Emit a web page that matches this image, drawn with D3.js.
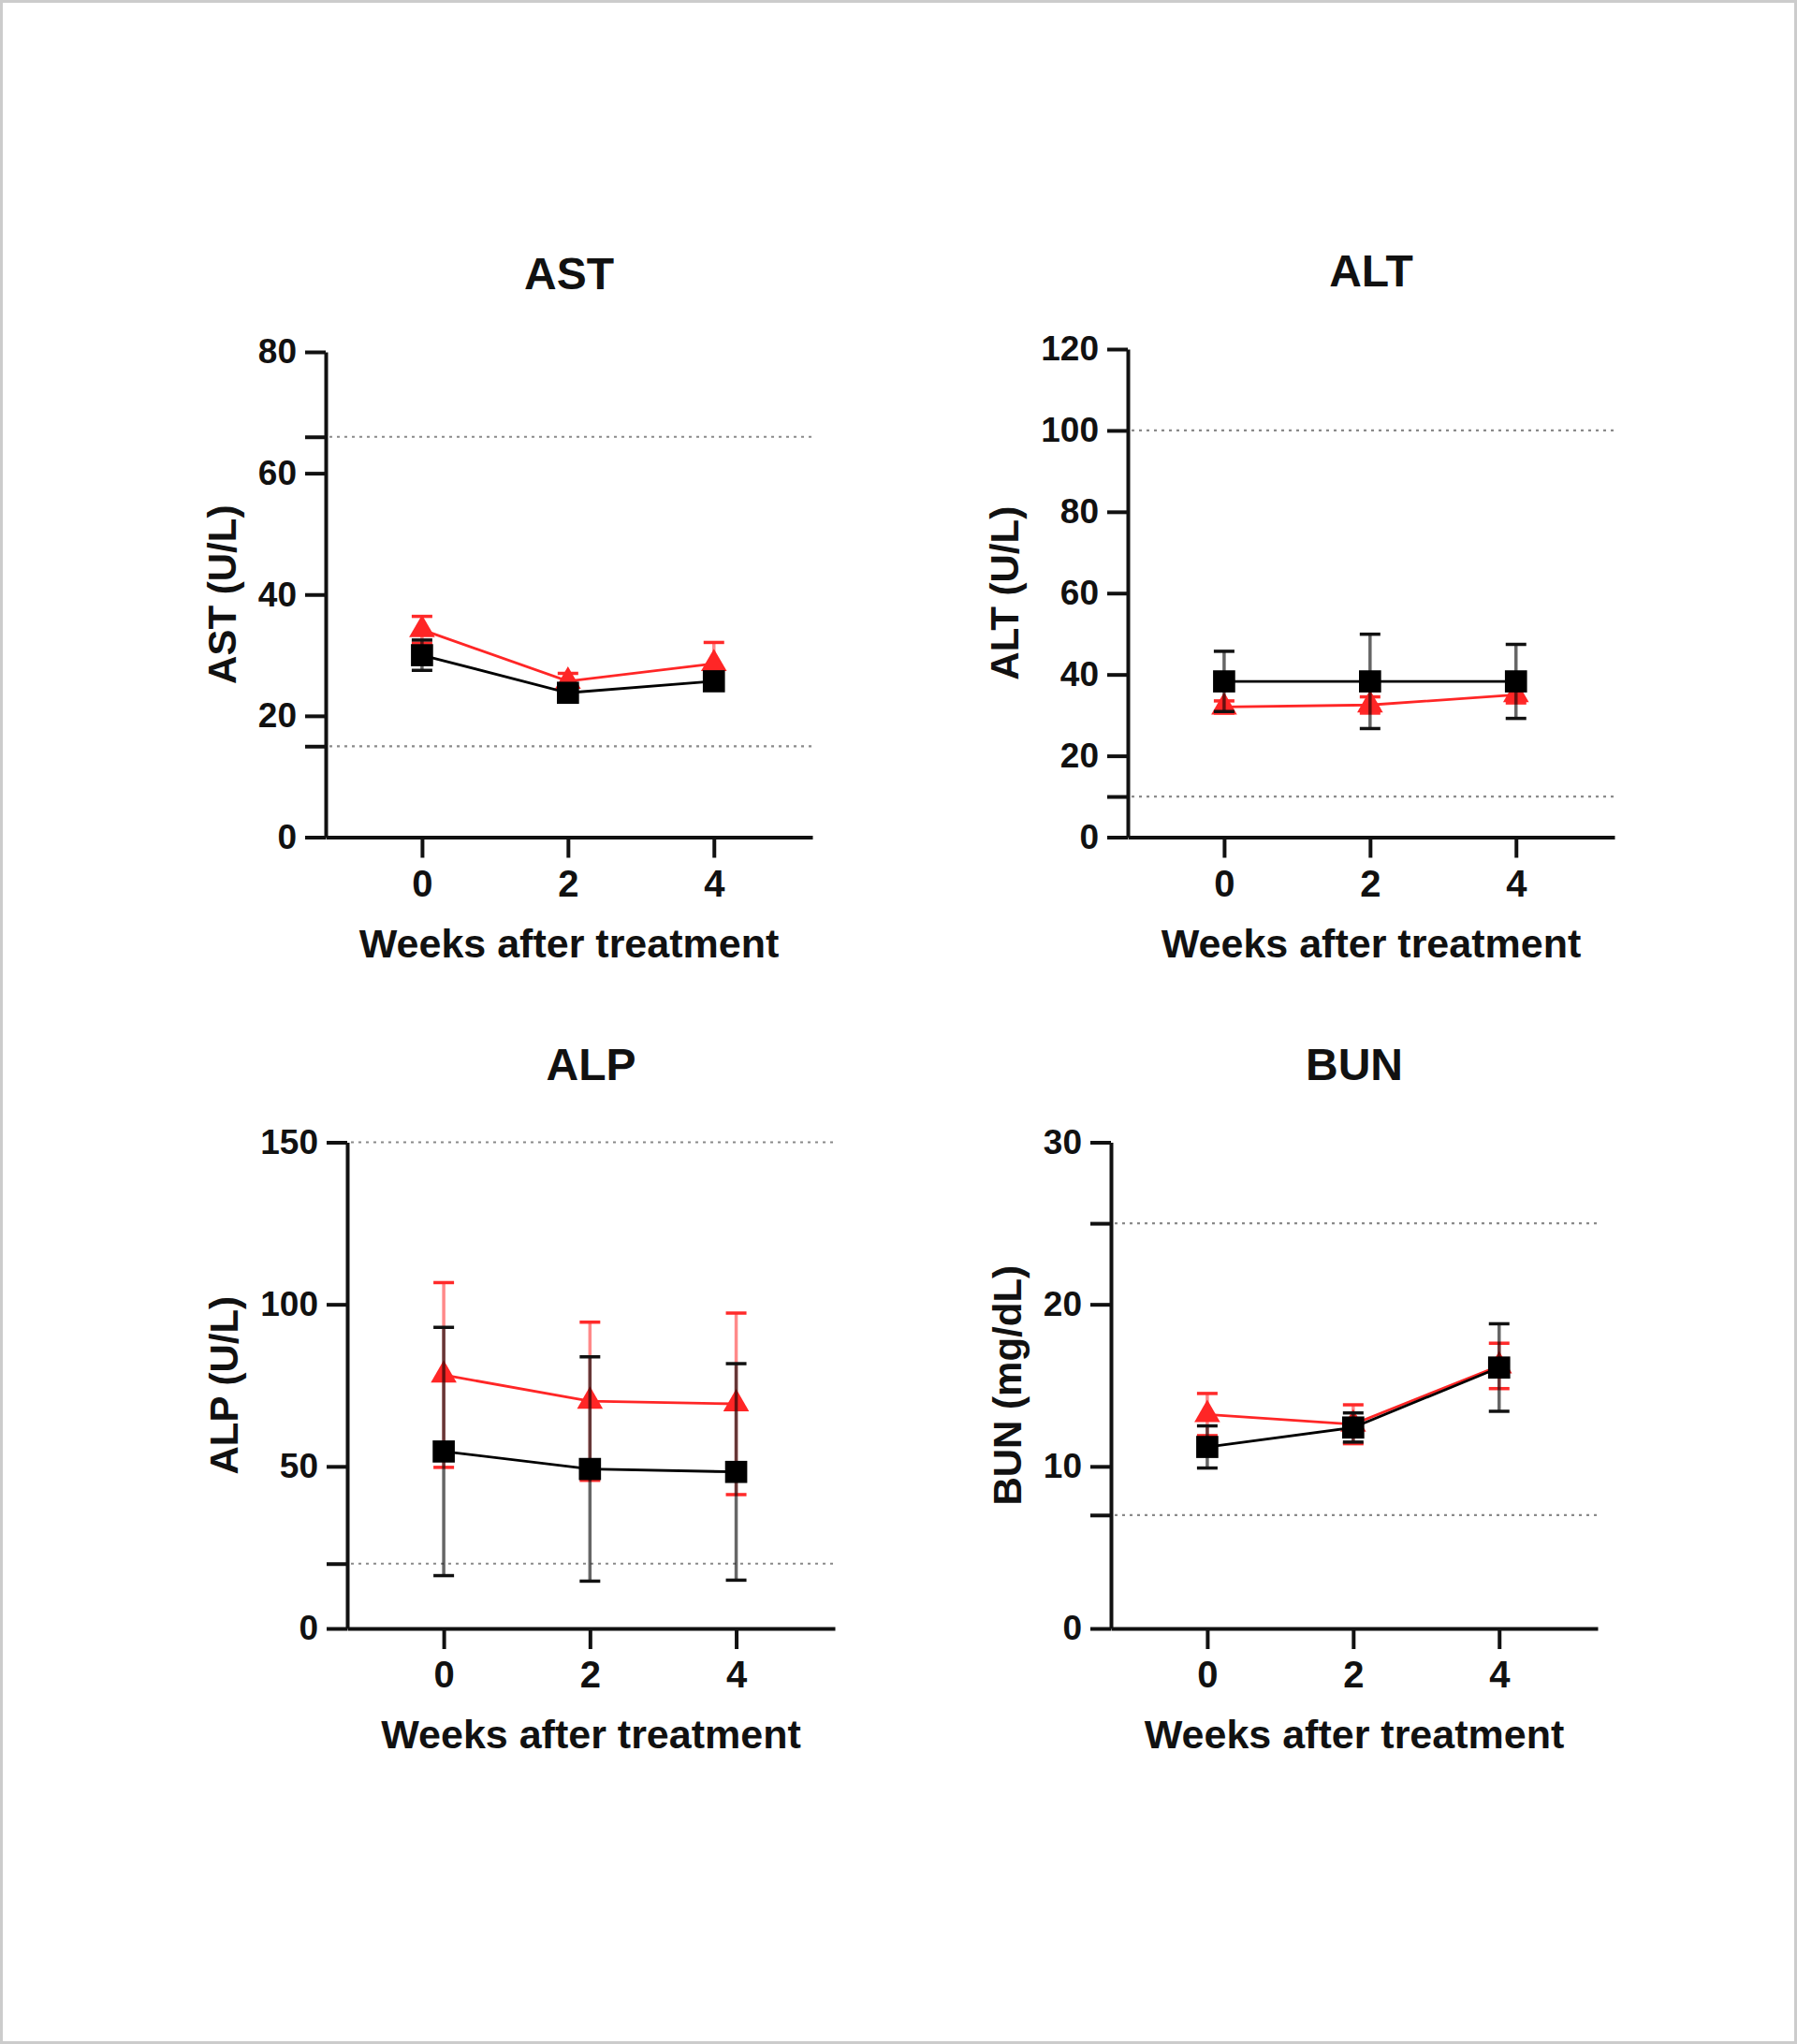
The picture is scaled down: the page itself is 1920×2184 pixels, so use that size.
<!DOCTYPE html>
<html>
<head>
<meta charset="utf-8">
<script src="https://cdn.jsdelivr.net/npm/d3@7"></script>
<style>
  html, body { margin: 0; padding: 0; background: #fff; }
  svg text { font-family: "Liberation Sans", Arial, sans-serif; font-weight: bold; fill: #111; }
</style>
</head>
<body>
<svg id="chart" width="1920" height="2184"></svg>
<script>
// ---------------- data ----------------
const weeks = [0, 2, 4];
const panelNames = ["AST", "ALT", "ALP", "BUN"];
const yTitles = ["AST (U/L)", "ALT (U/L)", "ALP (U/L)", "BUN (mg/dL)"];
const yMaxes = [80, 120, 150, 30];
const yTickSteps = [20, 20, 50, 10];
const refLines = [[15, 66], [10, 100], [20, 150], [7, 25]];

const redMeans   = [[34.2, 25.7, 28.6], [32.0, 32.5, 35.0], [78.2, 70.1, 69.3], [13.2, 12.6, 16.2]];
const redErrs    = [[2.2, 1.3, 3.5],    [1.5, 2.0, 2.0],    [28.5, 24.4, 28.0], [1.3, 1.2, 1.4]];
const blackMeans = [[30.0, 23.8, 25.7], [38.3, 38.3, 38.3], [54.6, 49.2, 48.3], [11.2, 12.4, 16.1]];
const blackErrs  = [[2.5, 1.0, 1.0],    [7.4, 11.6, 9.1],   [38.3, 34.6, 33.4], [1.3, 0.9, 2.7]];

const xTitle = "Weeks after treatment";

// ---------------- layout ----------------
const layout = [
  { ox: 348,  top: 376,  bottom: 894.5, right: 868 },
  { ox: 1205, top: 373,  bottom: 894.5, right: 1725 },
  { ox: 371,  top: 1220.5, bottom: 1740, right: 892 },
  { ox: 1187, top: 1220.5, bottom: 1740, right: 1707 }
];
const xDomain = [-1.32, 5.35];
const TICK = 22;

const svg = d3.select("#chart");
svg.append("rect").attr("x", 1.5).attr("y", 1.5).attr("width", 1917).attr("height", 2181)
  .attr("fill", "#fff").attr("stroke", "#cccccc").attr("stroke-width", 3);

panelNames.forEach((name, i) => {
  const L = layout[i];
  const g = svg.append("g");
  const x = d3.scaleLinear().domain(xDomain).range([L.ox, L.right]);
  const y = d3.scaleLinear().domain([0, yMaxes[i]]).range([L.bottom, L.top]);
  const labeled = d3.range(0, yMaxes[i] + 0.001, yTickSteps[i]);
  const allTicks = Array.from(new Set(labeled.concat(refLines[i])));

  // reference dotted lines
  g.selectAll(".ref").data(refLines[i]).join("line")
    .attr("x1", L.ox + 4).attr("x2", L.right)
    .attr("y1", d => y(d)).attr("y2", d => y(d))
    .attr("stroke", "#8a8a8a").attr("stroke-width", 2.2).attr("stroke-dasharray", "3,5");

  // y axis
  const yAxis = d3.axisLeft(y).tickValues(allTicks).tickSize(TICK).tickSizeOuter(0).tickPadding(9)
    .tickFormat(d => labeled.includes(d) ? d3.format("d")(d) : "");
  const ya = g.append("g").attr("transform", `translate(${L.ox},0)`).call(yAxis);
  ya.select(".domain").attr("stroke", "#111").attr("stroke-width", 4);
  ya.selectAll(".tick line").attr("stroke", "#111").attr("stroke-width", 4);
  ya.selectAll(".tick text").style("font-size", "37px").attr("fill", "#111");

  // x axis
  const xAxis = d3.axisBottom(x).tickValues(weeks).tickSize(TICK).tickSizeOuter(0).tickPadding(8)
    .tickFormat(d3.format("d"));
  const xa = g.append("g").attr("transform", `translate(0,${L.bottom})`).call(xAxis);
  xa.select(".domain").attr("stroke", "#111").attr("stroke-width", 4);
  xa.selectAll(".tick line").attr("stroke", "#111").attr("stroke-width", 4);
  xa.selectAll(".tick text").style("font-size", "40px").attr("fill", "#111")
    .attr("dy", null).attr("y", 63).attr("dominant-baseline", "auto");

  // y tick label max width
  let maxW = 0;
  ya.selectAll(".tick text").each(function () { maxW = Math.max(maxW, this.getComputedTextLength()); });

  // titles
  g.append("text").attr("x", (L.ox + L.right) / 2).attr("y", L.top - 67)
    .attr("text-anchor", "middle").style("font-size", "48px").text(name);
  g.append("text").attr("x", (L.ox + L.right) / 2).attr("y", L.bottom + 128)
    .attr("text-anchor", "middle").style("font-size", "43px").text(xTitle);
  const yx = L.ox - TICK - 9 - maxW - 24;
  g.append("text").attr("transform", `translate(${yx},${(L.top + L.bottom) / 2}) rotate(-90)`)
    .attr("text-anchor", "middle").style("font-size", "42px").text(yTitles[i]);

  const series = [
    { means: redMeans[i], errs: redErrs[i], color: "#ff2626", barColor: "rgba(255,40,40,0.55)", capColor: "#ff2a2a",
      symbol: d3.symbolTriangle, size: 330 },
    { means: blackMeans[i], errs: blackErrs[i], color: "#000", barColor: "rgba(0,0,0,0.6)", capColor: "#111",
      symbol: d3.symbolSquare, size: 560 }
  ];
  const capW = 11;
  series.forEach(s => {
    const pts = weeks.map((w, k) => ({ w, m: s.means[k], e: s.errs[k] }));
    const eg = g.append("g");
    eg.selectAll(".v").data(pts).join("line")
      .attr("x1", d => x(d.w)).attr("x2", d => x(d.w))
      .attr("y1", d => y(d.m - d.e)).attr("y2", d => y(d.m + d.e))
      .attr("stroke", s.barColor).attr("stroke-width", 3.5);
    ["+", "-"].forEach(sg => {
      eg.selectAll(".c" + (sg === "+" ? "p" : "m")).data(pts).join("line")
        .attr("x1", d => x(d.w) - capW).attr("x2", d => x(d.w) + capW)
        .attr("y1", d => y(sg === "+" ? d.m + d.e : d.m - d.e))
        .attr("y2", d => y(sg === "+" ? d.m + d.e : d.m - d.e))
        .attr("stroke", s.capColor).attr("stroke-width", 3.5);
    });
    g.append("path").datum(pts)
      .attr("d", d3.line().x(d => x(d.w)).y(d => y(d.m)))
      .attr("fill", "none").attr("stroke", s.color).attr("stroke-width", 2.8);
    g.selectAll(null).data(pts).join("path")
      .attr("transform", d => `translate(${x(d.w)},${y(d.m)})`)
      .attr("d", d3.symbol().type(s.symbol).size(s.size))
      .attr("fill", s.color);
  });
});
</script>
</body>
</html>
